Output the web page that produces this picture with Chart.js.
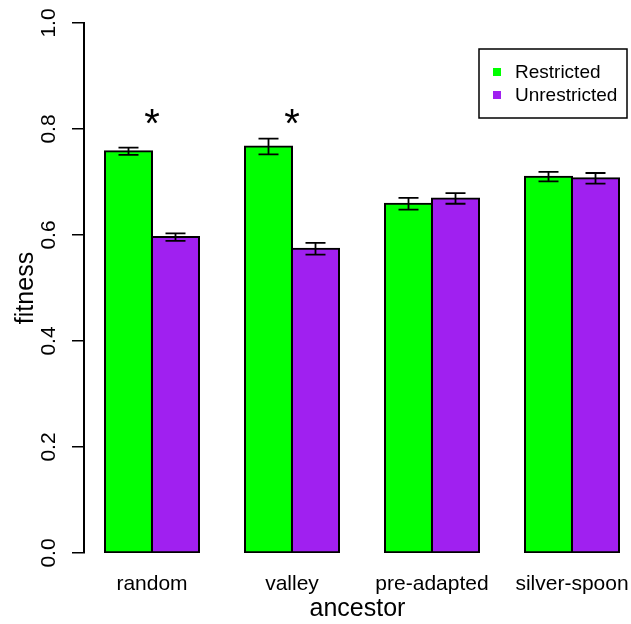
<!DOCTYPE html>
<html>
<head>
<meta charset="utf-8">
<script src="https://cdn.jsdelivr.net/npm/chart.js@4.4.1/dist/chart.umd.min.js"></script>
<style>
  html, body { margin: 0; padding: 0; background: #ffffff; }
  #wrap { width: 631px; height: 624px; }
</style>
</head>
<body>
<div id="wrap"><canvas id="c" width="631" height="624"></canvas></div>
<script>
// ---- data ----
const categories = ['random', 'valley', 'pre-adapted', 'silver-spoon'];
const seriesNames = ['Restricted', 'Unrestricted'];
const restricted = [0.758, 0.767, 0.659, 0.710];
const unrestricted = [0.596, 0.574, 0.669, 0.707];
const restrictedErr = [0.007, 0.015, 0.011, 0.009];
const unrestrictedErr = [0.007, 0.011, 0.010, 0.010];
const significance = ['*', '*', '', ''];
const yTickValues = [0.0, 0.2, 0.4, 0.6, 0.8, 1.0];

// ---- styling ----
const FONT = '"Liberation Sans", Arial, Helvetica, sans-serif';
const GREEN = '#00FF00';
const PURPLE = '#A020F0';
const STAR_Y = 0.785; // baseline of the significance marks, in data units

const errs = [restrictedErr, unrestrictedErr];

const errorBarPlugin = {
  id: 'errorBars',
  afterDatasetsDraw(chart) {
    const ctx = chart.ctx;
    const y = chart.scales.y;
    ctx.save();
    ctx.strokeStyle = '#000';
    ctx.lineWidth = 1.8;
    chart.data.datasets.forEach((ds, di) => {
      const meta = chart.getDatasetMeta(di);
      meta.data.forEach((bar, i) => {
        const v = ds.data[i].y;
        const e = errs[di][i];
        const x = bar.x;
        const yt = y.getPixelForValue(v + e);
        const yb = y.getPixelForValue(v - e);
        ctx.beginPath();
        ctx.moveTo(x, yt); ctx.lineTo(x, yb);
        ctx.moveTo(x - 10, yt); ctx.lineTo(x + 10, yt);
        ctx.moveTo(x - 10, yb); ctx.lineTo(x + 10, yb);
        ctx.stroke();
      });
    });
    // significance marks
    const xs = chart.scales.x;
    ctx.fillStyle = '#000';
    ctx.font = '40px ' + FONT;
    ctx.textAlign = 'center';
    ctx.textBaseline = 'alphabetic';
    significance.forEach((s, i) => {
      if (s) ctx.fillText(s, xs.getPixelForValue(i), y.getPixelForValue(STAR_Y));
    });
    ctx.restore();
  }
};

const yLabelPlugin = {
  id: 'yLabels',
  afterDraw(chart) {
    const ctx = chart.ctx;
    const y = chart.scales.y;
    const left = chart.chartArea.left;
    ctx.save();
    ctx.fillStyle = '#000';
    ctx.font = '21px ' + FONT;
    ctx.textAlign = 'center';
    ctx.textBaseline = 'alphabetic';
    yTickValues.forEach(v => {
      const py = y.getPixelForValue(v);
      ctx.save();
      ctx.translate(left - 29, py);
      ctx.rotate(-Math.PI / 2);
      ctx.fillText(v.toFixed(1), 0, 0);
      ctx.restore();
    });
    ctx.restore();
  }
};

const legendPlugin = {
  id: 'boxLegend',
  afterDraw(chart) {
    const ctx = chart.ctx;
    const ca = chart.chartArea;
    const bx = ca.right - 152, by = ca.top + 26, bw = 148, bh = 69;
    ctx.save();
    ctx.strokeStyle = '#000';
    ctx.lineWidth = 1.5;
    ctx.strokeRect(bx, by, bw, bh);
    ctx.font = '19px ' + FONT;
    ctx.textAlign = 'left';
    ctx.textBaseline = 'middle';
    chart.data.datasets.forEach((ds, i) => {
      const cy = by + 23 + i * 23;
      ctx.fillStyle = ds.backgroundColor;
      ctx.fillRect(bx + 14, cy - 4, 8, 8);
      ctx.fillStyle = '#000';
      ctx.fillText(ds.label, bx + 36, cy + 1);
    });
    ctx.restore();
  }
};

new Chart(document.getElementById('c'), {
  type: 'bar',
  data: {
    datasets: [
      {
        label: seriesNames[0],
        data: categories.map((c, i) => ({ x: i, y: restricted[i] })),
        backgroundColor: GREEN,
        borderColor: '#000',
        borderWidth: 2,
        borderSkipped: false,
        inflateAmount: 1,
        barThickness: 47
      },
      {
        label: seriesNames[1],
        data: categories.map((c, i) => ({ x: i, y: unrestricted[i] })),
        backgroundColor: PURPLE,
        borderColor: '#000',
        borderWidth: 2,
        borderSkipped: false,
        inflateAmount: 1,
        barThickness: 47
      }
    ]
  },
  options: {
    responsive: false,
    devicePixelRatio: 1,
    animation: false,
    layout: { padding: { top: 23, right: 0, bottom: 0, left: 0 } },
    plugins: { legend: { display: false }, tooltip: { enabled: false }, title: { display: false } },
    scales: {
      x: {
        type: 'linear',
        min: -0.4857,
        max: 3.4214,
        offset: false,
        afterFit: s => { s.height = 71; s.paddingLeft = 0; s.paddingRight = 0; },
        afterBuildTicks: s => { s.ticks = categories.map((c, i) => ({ value: i })); },
        grid: { display: false, drawTicks: false },
        border: { display: false },
        ticks: {
          autoSkip: false,
          maxRotation: 0,
          minRotation: 0,
          padding: 19,
          color: '#000',
          font: { family: FONT, size: 21 },
          callback: v => categories[v]
        },
        title: {
          display: true,
          text: 'ancestor',
          color: '#000',
          font: { family: FONT, size: 25 },
          padding: { top: 0, bottom: 0 }
        }
      },
      y: {
        type: 'linear',
        min: 0,
        max: 1,
        afterFit: s => { s.width = 84; s.paddingTop = 0; s.paddingBottom = 0; },
        afterBuildTicks: s => { s.ticks = yTickValues.map(v => ({ value: v })); },
        grid: { drawOnChartArea: false, drawTicks: true, tickLength: 12, color: '#000', lineWidth: 1.5 },
        border: { display: true, color: '#000', width: 2 },
        ticks: { display: false },
        title: {
          display: true,
          text: 'fitness',
          color: '#000',
          font: { family: FONT, size: 25 },
          padding: { top: 11, bottom: 0 }
        }
      }
    }
  },
  plugins: [errorBarPlugin, yLabelPlugin, legendPlugin]
});
</script>
</body>
</html>
